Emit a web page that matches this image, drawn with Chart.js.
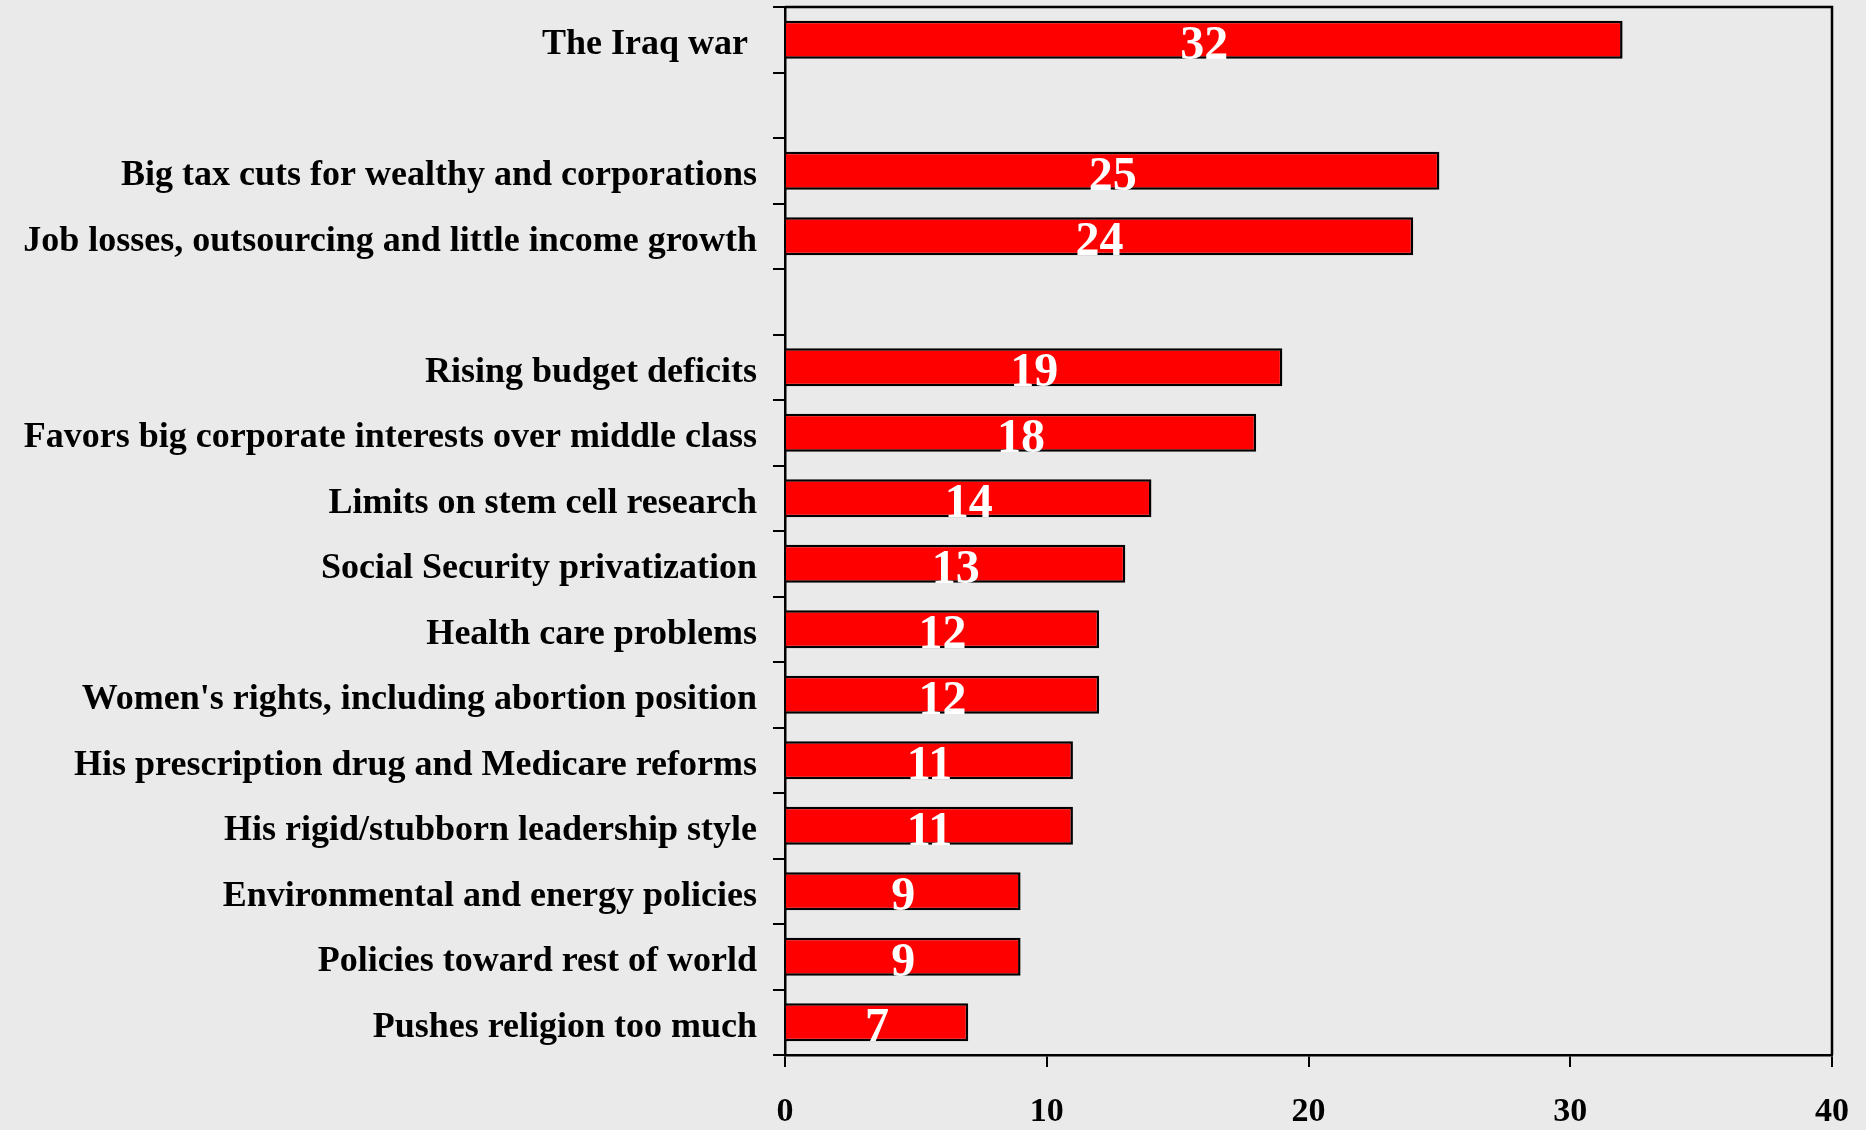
<!DOCTYPE html>
<html>
<head>
<meta charset="utf-8">
<script src="https://cdn.jsdelivr.net/npm/chart.js@4/dist/chart.umd.min.js"></script>
<style>
  html, body { margin: 0; padding: 0; background: #eaeaea; }
  #wrap { width: 1866px; height: 1130px; position: relative; }
</style>
</head>
<body>
<div id="wrap"><canvas id="chart"></canvas></div>
<script>
// categories top to bottom (blank entries are the gaps in the chart)
const categories = [
    'The Iraq war ',
    '',
    'Big tax cuts for wealthy and corporations',
    'Job losses, outsourcing and little income growth',
    '',
    'Rising budget deficits',
    'Favors big corporate interests over middle class',
    'Limits on stem cell research',
    'Social Security privatization',
    'Health care problems',
    "Women's rights, including abortion position",
    'His prescription drug and Medicare reforms',
    'His rigid/stubborn leadership style',
    'Environmental and energy policies',
    'Policies toward rest of world',
    'Pushes religion too much'
];
const values = [32, null, 25, 24, null, 19, 18, 14, 13, 12, 12, 11, 11, 9, 9, 7];
const xTicks = [0, 10, 20, 30, 40];

const serif = '"Liberation Serif", "Times New Roman", serif';

// white numbers inside the bars
const barLabels = {
    id: 'barLabels',
    afterDatasetsDraw(chart) {
        const ctx = chart.ctx;
        const meta = chart.getDatasetMeta(0);
        ctx.save();
        ctx.fillStyle = '#ffffff';
        ctx.font = 'bold 48px ' + serif;
        ctx.textAlign = 'center';
        ctx.textBaseline = 'alphabetic';
        meta.data.forEach(function(bar, i) {
            if (values[i] === null) return;
            ctx.fillText(String(values[i]), (bar.base + bar.x) / 2, bar.y + 19);
        });
        ctx.restore();
    }
};

// top and right edges of the plot box
const frame = {
    id: 'frame',
    afterDraw(chart) {
        const a = chart.chartArea;
        const ctx = chart.ctx;
        ctx.save();
        ctx.strokeStyle = '#000';
        ctx.lineWidth = 2.5;
        ctx.beginPath();
        ctx.moveTo(a.left, a.top);
        ctx.lineTo(a.right, a.top);
        ctx.lineTo(a.right, a.bottom);
        ctx.stroke();
        ctx.restore();
    }
};

new Chart(document.getElementById('chart').getContext('2d'), {
    type: 'bar',
    data: {
        labels: categories,
        datasets: [{
            data: values,
            backgroundColor: '#ff0000',
            borderColor: '#000000',
            borderWidth: 2.5,
            barPercentage: 0.58,
            categoryPercentage: 1
        }]
    },
    options: {
        indexAxis: 'y',
        responsive: true,
        maintainAspectRatio: false,
        animation: false,
        layout: { padding: { top: 7, right: 34, left: 0, bottom: 0 } },
        plugins: {
            legend: { display: false },
            tooltip: { enabled: false }
        },
        scales: {
            x: {
                type: 'linear',
                min: 0,
                max: 40,
                afterBuildTicks(scale) {
                    scale.ticks = xTicks.map(function(v) { return { value: v }; });
                },
                afterFit(scale) {
                    scale.height = 75;
                    scale.paddingLeft = 0;
                    scale.paddingRight = 0;
                },
                ticks: {
                    color: '#000',
                    font: { family: serif, size: 34, weight: 'bold' },
                    padding: 25
                },
                grid: {
                    drawOnChartArea: false,
                    color: '#000',
                    lineWidth: 2,
                    tickLength: 12
                },
                border: { display: true, color: '#000', width: 2.5 }
            },
            y: {
                afterFit(scale) {
                    scale.width = 785;
                    scale.paddingTop = 0;
                    scale.paddingBottom = 0;
                },
                ticks: {
                    color: '#000',
                    font: { family: serif, size: 36, weight: 'bold' },
                    padding: 16,
                    labelOffset: 5,
                    autoSkip: false
                },
                grid: {
                    offset: true,
                    drawOnChartArea: false,
                    color: '#000',
                    lineWidth: 2,
                    tickLength: 12
                },
                border: { display: true, color: '#000', width: 2.5 }
            }
        }
    },
    plugins: [barLabels, frame]
});
</script>
</body>
</html>
